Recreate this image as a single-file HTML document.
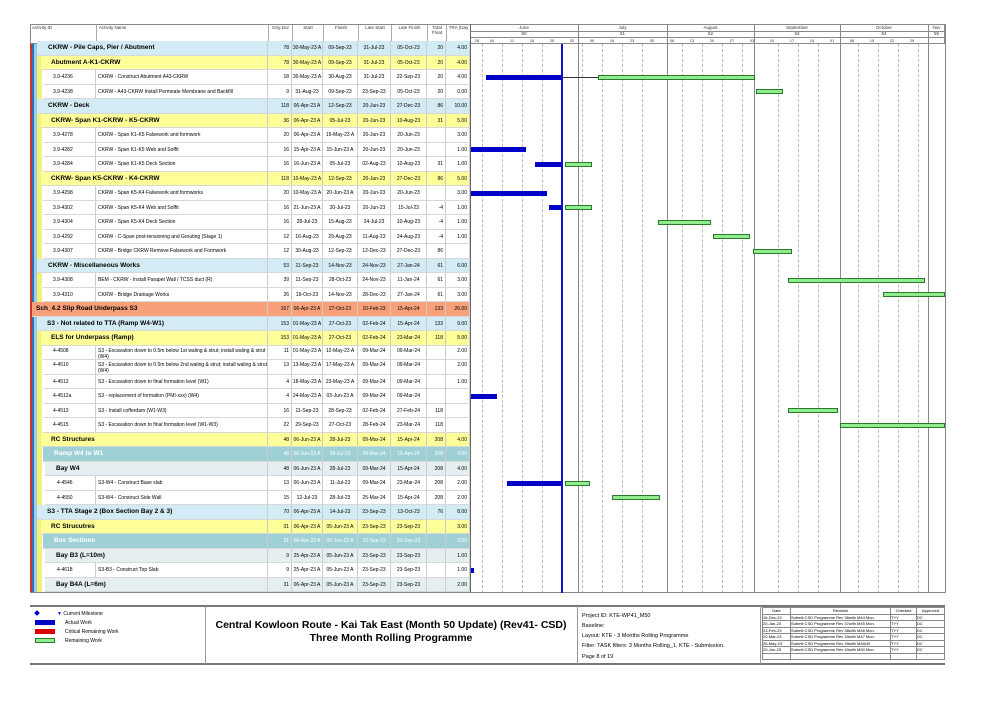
<!DOCTYPE html>
<html><head><meta charset="utf-8"><style>
*{margin:0;padding:0;box-sizing:border-box}
body{width:1001px;height:708px;background:#fff;position:relative;overflow:hidden;font-family:"Liberation Sans",sans-serif;color:#000}
.a{position:absolute}
.r{position:absolute;height:14.5px;display:flex;font-size:5px;line-height:14.5px;border-bottom:1px solid #d8d8d8;white-space:nowrap;overflow:hidden}
.r span{display:block;overflow:hidden;border-right:1px solid #ccc;height:100%}
.g{font-weight:bold;font-size:6.5px}
.g span:not(:first-child){font-weight:normal;font-size:5px}
.n{text-align:right;padding-right:2px}
.c{text-align:center}
.b1{background:#d3ebf4}.y{background:#ffff99}.w{background:#fff}.o{background:#f7a07a}.t{background:#9fd0d6;color:#fff}.e{background:#e5eff2}
.hd{font-size:4.5px;color:#333;text-align:center}
.bar{position:absolute;height:5px}
.bl{background:#0000c8}
.gr{background:#8fec8f;border:1px solid #2a7a2a}
.vl{position:absolute;top:44px;height:549px;border-left:1px dashed #bbb}
.ml{position:absolute;top:24px;height:569px;border-left:1px solid #888}
.ft{font-size:5px}
</style></head><body>
<div class="a" style="left:30px;top:24px;width:915px;height:20px;border:1px solid #888"></div>
<div class="a hd" style="left:30px;top:25px;width:66px;text-align:left;padding-left:2px">Activity ID</div>
<div class="a hd" style="left:96px;top:25px;width:172px;text-align:left;padding-left:2px;border-left:1px solid #aaa;height:19px">Activity Name</div>
<div class="a hd" style="left:268px;top:25px;width:24px;border-left:1px solid #aaa;height:19px">Orig Dur</div>
<div class="a hd" style="left:292px;top:25px;width:31px;border-left:1px solid #aaa;height:19px">Start</div>
<div class="a hd" style="left:323px;top:25px;width:35px;border-left:1px solid #aaa;height:19px">Finish</div>
<div class="a hd" style="left:358px;top:25px;width:33px;border-left:1px solid #aaa;height:19px">Late Start</div>
<div class="a hd" style="left:391px;top:25px;width:36px;border-left:1px solid #aaa;height:19px">Late Finish</div>
<div class="a hd" style="left:427px;top:25px;width:19px;border-left:1px solid #aaa;height:19px">Total Float</div>
<div class="a hd" style="left:446px;top:25px;width:24px;border-left:1px solid #aaa;height:19px">TRA (Day</div>
<div class="a" style="left:470px;top:24px;width:475px;height:20px;border-left:1px solid #888"></div>
<div class="a" style="left:470px;top:31px;width:475px;border-top:1px solid #888"></div>
<div class="a" style="left:470px;top:37px;width:475px;border-top:1px solid #888"></div>
<div class="a hd" style="left:470px;top:25px;width:108px">June</div>
<div class="a hd" style="left:578px;top:25px;width:89px">July</div>
<div class="a hd" style="left:667px;top:25px;width:87px">August</div>
<div class="a hd" style="left:754px;top:25px;width:86px">September</div>
<div class="a hd" style="left:840px;top:25px;width:88px">October</div>
<div class="a hd" style="left:928px;top:25px;width:17px">Nov</div>
<div class="a hd" style="left:470px;top:31px;width:108px">50</div>
<div class="a hd" style="left:578px;top:31px;width:89px">51</div>
<div class="a hd" style="left:667px;top:31px;width:87px">52</div>
<div class="a hd" style="left:754px;top:31px;width:86px">53</div>
<div class="a hd" style="left:840px;top:31px;width:88px">54</div>
<div class="a hd" style="left:928px;top:31px;width:17px">55</div>
<div class="a hd" style="left:472px;top:38px;width:473px;display:flex;font-size:4px">
<span style="width:10px">28</span><span style="width:20px">04</span><span style="width:20px">11</span><span style="width:20px">18</span><span style="width:20px">25</span><span style="width:20px">02</span><span style="width:20px">09</span><span style="width:20px">16</span><span style="width:20px">23</span><span style="width:20px">30</span><span style="width:20px">06</span><span style="width:20px">13</span><span style="width:20px">20</span><span style="width:20px">27</span><span style="width:20px">03</span><span style="width:20px">10</span><span style="width:20px">17</span><span style="width:20px">24</span><span style="width:20px">01</span><span style="width:20px">08</span><span style="width:20px">15</span><span style="width:20px">22</span><span style="width:20px">29</span></div>
<div class="vl" style="left:482px"></div><div class="vl" style="left:502px"></div><div class="vl" style="left:522px"></div><div class="vl" style="left:542px"></div><div class="vl" style="left:582px"></div><div class="vl" style="left:602px"></div><div class="vl" style="left:622px"></div><div class="vl" style="left:642px"></div><div class="vl" style="left:682px"></div><div class="vl" style="left:702px"></div><div class="vl" style="left:722px"></div><div class="vl" style="left:742px"></div><div class="vl" style="left:778px"></div><div class="vl" style="left:798px"></div><div class="vl" style="left:818px"></div><div class="vl" style="left:858px"></div><div class="vl" style="left:878px"></div><div class="vl" style="left:898px"></div><div class="vl" style="left:918px"></div>
<div class="ml" style="left:578px"></div><div class="ml" style="left:667px"></div><div class="ml" style="left:754px"></div><div class="ml" style="left:840px"></div><div class="ml" style="left:928px"></div><div class="ml" style="left:945px"></div>
<div class="a" style="left:470px;top:24px;height:569px;border-left:1px solid #666"></div>
<div class="a" style="left:30px;top:44px;width:2px;height:549px;background:#c0392b"></div>
<div class="a" style="left:32px;top:44px;width:2px;height:549px;background:#2e6fc0"></div>
<div class="a" style="left:34px;top:44px;width:3px;height:549px;background:#9dcde0"></div>
<div class="a" style="left:37px;top:44px;width:5px;height:549px;background:#f2f27a"></div>

<div class="r g b1" style="top:41px;left:37px;width:433px"><span style="width:231px;padding-left:11px">CKRW - Pile Caps, Pier / Abutment</span><span class="n" style="width:24px">78</span><span class="c" style="width:31px">30-May-23 A</span><span class="c" style="width:35px">09-Sep-23</span><span class="c" style="width:33px">31-Jul-23</span><span class="c" style="width:36px">05-Oct-23</span><span class="n" style="width:19px">20</span><span class="n" style="width:24px">4.00</span></div>
<div class="r g y" style="top:55.5px;left:41px;width:429px"><span style="width:227px;padding-left:10px">Abutment A-K1-CKRW</span><span class="n" style="width:24px">78</span><span class="c" style="width:31px">30-May-23 A</span><span class="c" style="width:35px">09-Sep-23</span><span class="c" style="width:33px">31-Jul-23</span><span class="c" style="width:36px">05-Oct-23</span><span class="n" style="width:19px">20</span><span class="n" style="width:24px">4.00</span></div>
<div class="r w" style="top:70px;left:43px;width:427px"><span style="width:53px;padding-left:10px">3.9-4236</span><span style="width:172px;padding-left:2px">CKRW - Construct Abutment A43-CKRW</span><span class="n" style="width:24px">18</span><span class="c" style="width:31px">30-May-23 A</span><span class="c" style="width:35px">30-Aug-23</span><span class="c" style="width:33px">31-Jul-23</span><span class="c" style="width:36px">22-Sep-23</span><span class="n" style="width:19px">20</span><span class="n" style="width:24px">4.00</span></div>
<div class="r w" style="top:84.5px;left:43px;width:427px"><span style="width:53px;padding-left:10px">3.9-4238</span><span style="width:172px;padding-left:2px">CKRW - A43-CKRW Install Permeate Membrane and Backfill</span><span class="n" style="width:24px">9</span><span class="c" style="width:31px">31-Aug-23</span><span class="c" style="width:35px">09-Sep-23</span><span class="c" style="width:33px">23-Sep-23</span><span class="c" style="width:36px">05-Oct-23</span><span class="n" style="width:19px">20</span><span class="n" style="width:24px">0.00</span></div>
<div class="r g b1" style="top:99px;left:37px;width:433px"><span style="width:231px;padding-left:11px">CKRW - Deck</span><span class="n" style="width:24px">118</span><span class="c" style="width:31px">06-Apr-23 A</span><span class="c" style="width:35px">12-Sep-23</span><span class="c" style="width:33px">20-Jun-23</span><span class="c" style="width:36px">27-Dec-23</span><span class="n" style="width:19px">86</span><span class="n" style="width:24px">10.00</span></div>
<div class="r g y" style="top:113.5px;left:41px;width:429px"><span style="width:227px;padding-left:10px">CKRW- Span K1-CKRW - K5-CKRW</span><span class="n" style="width:24px">36</span><span class="c" style="width:31px">06-Apr-23 A</span><span class="c" style="width:35px">05-Jul-23</span><span class="c" style="width:33px">20-Jun-23</span><span class="c" style="width:36px">10-Aug-23</span><span class="n" style="width:19px">31</span><span class="n" style="width:24px">5.00</span></div>
<div class="r w" style="top:128px;left:43px;width:427px"><span style="width:53px;padding-left:10px">3.9-4278</span><span style="width:172px;padding-left:2px">CKRW - Span K1-K5 Falsework and formwork</span><span class="n" style="width:24px">20</span><span class="c" style="width:31px">06-Apr-23 A</span><span class="c" style="width:35px">15-May-23 A</span><span class="c" style="width:33px">20-Jun-23</span><span class="c" style="width:36px">20-Jun-23</span><span class="n" style="width:19px"></span><span class="n" style="width:24px">3.00</span></div>
<div class="r w" style="top:142.5px;left:43px;width:427px"><span style="width:53px;padding-left:10px">3.9-4282</span><span style="width:172px;padding-left:2px">CKRW - Span K1-K5 Web and Soffit</span><span class="n" style="width:24px">16</span><span class="c" style="width:31px">15-Apr-23 A</span><span class="c" style="width:35px">15-Jun-23 A</span><span class="c" style="width:33px">20-Jun-23</span><span class="c" style="width:36px">20-Jun-23</span><span class="n" style="width:19px"></span><span class="n" style="width:24px">1.00</span></div>
<div class="r w" style="top:157px;left:43px;width:427px"><span style="width:53px;padding-left:10px">3.9-4284</span><span style="width:172px;padding-left:2px">CKRW - Span K1-K5 Deck Section</span><span class="n" style="width:24px">16</span><span class="c" style="width:31px">16-Jun-23 A</span><span class="c" style="width:35px">05-Jul-23</span><span class="c" style="width:33px">02-Aug-23</span><span class="c" style="width:36px">10-Aug-23</span><span class="n" style="width:19px">31</span><span class="n" style="width:24px">1.00</span></div>
<div class="r g y" style="top:171.5px;left:41px;width:429px"><span style="width:227px;padding-left:10px">CKRW- Span K5-CKRW - K4-CKRW</span><span class="n" style="width:24px">118</span><span class="c" style="width:31px">10-May-23 A</span><span class="c" style="width:35px">12-Sep-23</span><span class="c" style="width:33px">20-Jun-23</span><span class="c" style="width:36px">27-Dec-23</span><span class="n" style="width:19px">86</span><span class="n" style="width:24px">5.00</span></div>
<div class="r w" style="top:186px;left:43px;width:427px"><span style="width:53px;padding-left:10px">3.9-4298</span><span style="width:172px;padding-left:2px">CKRW - Span K5-K4 Falsework and formworks</span><span class="n" style="width:24px">20</span><span class="c" style="width:31px">10-May-23 A</span><span class="c" style="width:35px">20-Jun-23 A</span><span class="c" style="width:33px">20-Jun-23</span><span class="c" style="width:36px">20-Jun-23</span><span class="n" style="width:19px"></span><span class="n" style="width:24px">3.00</span></div>
<div class="r w" style="top:200.5px;left:43px;width:427px"><span style="width:53px;padding-left:10px">3.9-4302</span><span style="width:172px;padding-left:2px">CKRW - Span K5-K4 Web and Soffit</span><span class="n" style="width:24px">16</span><span class="c" style="width:31px">21-Jun-23 A</span><span class="c" style="width:35px">20-Jul-23</span><span class="c" style="width:33px">20-Jun-23</span><span class="c" style="width:36px">15-Jul-23</span><span class="n" style="width:19px">-4</span><span class="n" style="width:24px">1.00</span></div>
<div class="r w" style="top:215px;left:43px;width:427px"><span style="width:53px;padding-left:10px">3.9-4304</span><span style="width:172px;padding-left:2px">CKRW - Span K5-K4 Deck Section</span><span class="n" style="width:24px">16</span><span class="c" style="width:31px">28-Jul-23</span><span class="c" style="width:35px">15-Aug-23</span><span class="c" style="width:33px">24-Jul-23</span><span class="c" style="width:36px">10-Aug-23</span><span class="n" style="width:19px">-4</span><span class="n" style="width:24px">1.00</span></div>
<div class="r w" style="top:229.5px;left:43px;width:427px"><span style="width:53px;padding-left:10px">3.9-4292</span><span style="width:172px;padding-left:2px">CKRW - C-Span post-tensioning and Grouting (Stage 1)</span><span class="n" style="width:24px">12</span><span class="c" style="width:31px">16-Aug-23</span><span class="c" style="width:35px">29-Aug-23</span><span class="c" style="width:33px">11-Aug-23</span><span class="c" style="width:36px">24-Aug-23</span><span class="n" style="width:19px">-4</span><span class="n" style="width:24px">1.00</span></div>
<div class="r w" style="top:244px;left:43px;width:427px"><span style="width:53px;padding-left:10px">3.9-4307</span><span style="width:172px;padding-left:2px">CKRW - Bridge CKRW Remove Falsework and Formwork</span><span class="n" style="width:24px">12</span><span class="c" style="width:31px">30-Aug-23</span><span class="c" style="width:35px">12-Sep-23</span><span class="c" style="width:33px">12-Dec-23</span><span class="c" style="width:36px">27-Dec-23</span><span class="n" style="width:19px">86</span><span class="n" style="width:24px"></span></div>
<div class="r g b1" style="top:258.5px;left:37px;width:433px"><span style="width:231px;padding-left:11px">CKRW - Miscellaneous Works</span><span class="n" style="width:24px">53</span><span class="c" style="width:31px">11-Sep-23</span><span class="c" style="width:35px">14-Nov-23</span><span class="c" style="width:33px">24-Nov-23</span><span class="c" style="width:36px">27-Jan-24</span><span class="n" style="width:19px">61</span><span class="n" style="width:24px">6.00</span></div>
<div class="r w" style="top:273px;left:43px;width:427px"><span style="width:53px;padding-left:10px">3.9-4308</span><span style="width:172px;padding-left:2px">BEM - CKRW - Install Parapet Wall / TCSS duct (R)</span><span class="n" style="width:24px">39</span><span class="c" style="width:31px">11-Sep-23</span><span class="c" style="width:35px">28-Oct-23</span><span class="c" style="width:33px">24-Nov-23</span><span class="c" style="width:36px">11-Jan-24</span><span class="n" style="width:19px">61</span><span class="n" style="width:24px">3.00</span></div>
<div class="r w" style="top:287.5px;left:43px;width:427px"><span style="width:53px;padding-left:10px">3.9-4310</span><span style="width:172px;padding-left:2px">CKRW - Bridge Drainage Works</span><span class="n" style="width:24px">26</span><span class="c" style="width:31px">19-Oct-23</span><span class="c" style="width:35px">14-Nov-23</span><span class="c" style="width:33px">28-Dec-23</span><span class="c" style="width:36px">27-Jan-24</span><span class="n" style="width:19px">61</span><span class="n" style="width:24px">3.00</span></div>
<div class="r g o" style="top:302px;left:32px;width:438px"><span style="width:236px;padding-left:4px">Sch_4.2 Slip Road Underpass S3</span><span class="n" style="width:24px">167</span><span class="c" style="width:31px">06-Apr-23 A</span><span class="c" style="width:35px">27-Oct-23</span><span class="c" style="width:33px">10-Feb-23</span><span class="c" style="width:36px">15-Apr-24</span><span class="n" style="width:19px">133</span><span class="n" style="width:24px">26.00</span></div>
<div class="r g b1" style="top:316.5px;left:37px;width:433px"><span style="width:231px;padding-left:10px">S3 - Not related to TTA (Ramp W4-W1)</span><span class="n" style="width:24px">153</span><span class="c" style="width:31px">01-May-23 A</span><span class="c" style="width:35px">27-Oct-23</span><span class="c" style="width:33px">02-Feb-24</span><span class="c" style="width:36px">15-Apr-24</span><span class="n" style="width:19px">133</span><span class="n" style="width:24px">9.00</span></div>
<div class="r g y" style="top:331px;left:41px;width:429px"><span style="width:227px;padding-left:10px">ELS for Underpass (Ramp)</span><span class="n" style="width:24px">153</span><span class="c" style="width:31px">01-May-23 A</span><span class="c" style="width:35px">27-Oct-23</span><span class="c" style="width:33px">02-Feb-24</span><span class="c" style="width:36px">23-Mar-24</span><span class="n" style="width:19px">118</span><span class="n" style="width:24px">5.00</span></div>
<div class="r w" style="top:345.5px;left:43px;width:427px;line-height:6px"><span style="width:53px;padding-left:10px;padding-top:2px">4-4508</span><span style="width:172px;padding-left:2px;white-space:normal;padding-top:2px">S3 - Excavation down to 0.5m below 1st waling &amp; strut; install waling &amp; strut (W4)</span><span class="n" style="width:24px;padding-top:2px">11</span><span class="c" style="width:31px;padding-top:2px">01-May-23 A</span><span class="c" style="width:35px;padding-top:2px">12-May-23 A</span><span class="c" style="width:33px;padding-top:2px">09-Mar-24</span><span class="c" style="width:36px;padding-top:2px">09-Mar-24</span><span class="n" style="width:19px"></span><span class="n" style="width:24px;padding-top:2px">2.00</span></div>
<div class="r w" style="top:360px;left:43px;width:427px;line-height:6px"><span style="width:53px;padding-left:10px;padding-top:2px">4-4510</span><span style="width:172px;padding-left:2px;white-space:normal;padding-top:2px">S3 - Excavation down to 0.5m below 2nd waling &amp; strut; install waling &amp; strut (W4)</span><span class="n" style="width:24px;padding-top:2px">13</span><span class="c" style="width:31px;padding-top:2px">13-May-23 A</span><span class="c" style="width:35px;padding-top:2px">17-May-23 A</span><span class="c" style="width:33px;padding-top:2px">09-Mar-24</span><span class="c" style="width:36px;padding-top:2px">09-Mar-24</span><span class="n" style="width:19px"></span><span class="n" style="width:24px;padding-top:2px">2.00</span></div>
<div class="r w" style="top:374.5px;left:43px;width:427px"><span style="width:53px;padding-left:10px">4-4512</span><span style="width:172px;padding-left:2px">S3 - Excavation down to final formation level (W1)</span><span class="n" style="width:24px">4</span><span class="c" style="width:31px">18-May-23 A</span><span class="c" style="width:35px">23-May-23 A</span><span class="c" style="width:33px">09-Mar-24</span><span class="c" style="width:36px">09-Mar-24</span><span class="n" style="width:19px"></span><span class="n" style="width:24px">1.00</span></div>
<div class="r w" style="top:389px;left:43px;width:427px"><span style="width:53px;padding-left:10px">4-4512a</span><span style="width:172px;padding-left:2px">S3 - replacement of formation (PMI-xxx) (W4)</span><span class="n" style="width:24px">4</span><span class="c" style="width:31px">24-May-23 A</span><span class="c" style="width:35px">03-Jun-23 A</span><span class="c" style="width:33px">09-Mar-24</span><span class="c" style="width:36px">09-Mar-24</span><span class="n" style="width:19px"></span><span class="n" style="width:24px"></span></div>
<div class="r w" style="top:403.5px;left:43px;width:427px"><span style="width:53px;padding-left:10px">4-4513</span><span style="width:172px;padding-left:2px">S3 - Install cofferdam (W1-W3)</span><span class="n" style="width:24px">16</span><span class="c" style="width:31px">11-Sep-23</span><span class="c" style="width:35px">28-Sep-23</span><span class="c" style="width:33px">02-Feb-24</span><span class="c" style="width:36px">27-Feb-24</span><span class="n" style="width:19px">118</span><span class="n" style="width:24px"></span></div>
<div class="r w" style="top:418px;left:43px;width:427px"><span style="width:53px;padding-left:10px">4-4515</span><span style="width:172px;padding-left:2px">S3 - Excavation down to final formation level (W1-W3)</span><span class="n" style="width:24px">22</span><span class="c" style="width:31px">29-Sep-23</span><span class="c" style="width:35px">27-Oct-23</span><span class="c" style="width:33px">28-Feb-24</span><span class="c" style="width:36px">23-Mar-24</span><span class="n" style="width:19px">118</span><span class="n" style="width:24px"></span></div>
<div class="r g y" style="top:432.5px;left:41px;width:429px"><span style="width:227px;padding-left:10px">RC Structures</span><span class="n" style="width:24px">48</span><span class="c" style="width:31px">06-Jun-23 A</span><span class="c" style="width:35px">28-Jul-23</span><span class="c" style="width:33px">09-Mar-24</span><span class="c" style="width:36px">15-Apr-24</span><span class="n" style="width:19px">208</span><span class="n" style="width:24px">4.00</span></div>
<div class="r g t" style="top:447px;left:43px;width:427px"><span style="width:225px;padding-left:11px">Ramp W4 to W1</span><span class="n" style="width:24px">48</span><span class="c" style="width:31px">06-Jun-23 A</span><span class="c" style="width:35px">28-Jul-23</span><span class="c" style="width:33px">09-Mar-24</span><span class="c" style="width:36px">15-Apr-24</span><span class="n" style="width:19px">208</span><span class="n" style="width:24px">4.00</span></div>
<div class="r g e" style="top:461.5px;left:45px;width:425px"><span style="width:223px;padding-left:11px">Bay W4</span><span class="n" style="width:24px">48</span><span class="c" style="width:31px">06-Jun-23 A</span><span class="c" style="width:35px">28-Jul-23</span><span class="c" style="width:33px">09-Mar-24</span><span class="c" style="width:36px">15-Apr-24</span><span class="n" style="width:19px">208</span><span class="n" style="width:24px">4.00</span></div>
<div class="r w" style="top:476px;left:45px;width:425px"><span style="width:51px;padding-left:12px">4-4546</span><span style="width:172px;padding-left:2px">S3-W4 - Construct Base slab</span><span class="n" style="width:24px">13</span><span class="c" style="width:31px">06-Jun-23 A</span><span class="c" style="width:35px">11-Jul-23</span><span class="c" style="width:33px">09-Mar-24</span><span class="c" style="width:36px">23-Mar-24</span><span class="n" style="width:19px">208</span><span class="n" style="width:24px">2.00</span></div>
<div class="r w" style="top:490.5px;left:45px;width:425px"><span style="width:51px;padding-left:12px">4-4550</span><span style="width:172px;padding-left:2px">S3-W4 - Construct Side Wall</span><span class="n" style="width:24px">15</span><span class="c" style="width:31px">12-Jul-23</span><span class="c" style="width:35px">28-Jul-23</span><span class="c" style="width:33px">25-Mar-24</span><span class="c" style="width:36px">15-Apr-24</span><span class="n" style="width:19px">208</span><span class="n" style="width:24px">2.00</span></div>
<div class="r g b1" style="top:505px;left:37px;width:433px"><span style="width:231px;padding-left:10px">S3 - TTA Stage 2 (Box Section Bay 2 &amp; 3)</span><span class="n" style="width:24px">70</span><span class="c" style="width:31px">06-Apr-23 A</span><span class="c" style="width:35px">14-Jul-23</span><span class="c" style="width:33px">23-Sep-23</span><span class="c" style="width:36px">13-Oct-23</span><span class="n" style="width:19px">76</span><span class="n" style="width:24px">8.00</span></div>
<div class="r g y" style="top:519.5px;left:41px;width:429px"><span style="width:227px;padding-left:10px">RC Strucutres</span><span class="n" style="width:24px">31</span><span class="c" style="width:31px">06-Apr-23 A</span><span class="c" style="width:35px">05-Jun-23 A</span><span class="c" style="width:33px">23-Sep-23</span><span class="c" style="width:36px">23-Sep-23</span><span class="n" style="width:19px"></span><span class="n" style="width:24px">3.00</span></div>
<div class="r g t" style="top:534px;left:43px;width:427px"><span style="width:225px;padding-left:11px">Box Sections</span><span class="n" style="width:24px">31</span><span class="c" style="width:31px">06-Apr-23 A</span><span class="c" style="width:35px">05-Jun-23 A</span><span class="c" style="width:33px">23-Sep-23</span><span class="c" style="width:36px">23-Sep-23</span><span class="n" style="width:19px"></span><span class="n" style="width:24px">3.00</span></div>
<div class="r g e" style="top:548.5px;left:45px;width:425px"><span style="width:223px;padding-left:11px">Bay B3 (L=10m)</span><span class="n" style="width:24px">9</span><span class="c" style="width:31px">25-Apr-23 A</span><span class="c" style="width:35px">05-Jun-23 A</span><span class="c" style="width:33px">23-Sep-23</span><span class="c" style="width:36px">23-Sep-23</span><span class="n" style="width:19px"></span><span class="n" style="width:24px">1.00</span></div>
<div class="r w" style="top:563px;left:45px;width:425px"><span style="width:51px;padding-left:12px">4-4618</span><span style="width:172px;padding-left:2px">S3-B3 - Construct Top Slab</span><span class="n" style="width:24px">9</span><span class="c" style="width:31px">25-Apr-23 A</span><span class="c" style="width:35px">05-Jun-23 A</span><span class="c" style="width:33px">23-Sep-23</span><span class="c" style="width:36px">23-Sep-23</span><span class="n" style="width:19px"></span><span class="n" style="width:24px">1.00</span></div>
<div class="r g e" style="top:577.5px;left:45px;width:425px"><span style="width:223px;padding-left:11px">Bay B4A (L=6m)</span><span class="n" style="width:24px">31</span><span class="c" style="width:31px">06-Apr-23 A</span><span class="c" style="width:35px">05-Jun-23 A</span><span class="c" style="width:33px">23-Sep-23</span><span class="c" style="width:36px">23-Sep-23</span><span class="n" style="width:19px"></span><span class="n" style="width:24px">2.00</span></div>
<div class="a" style="left:30px;top:592px;width:915px;border-top:1px solid #888"></div>
<div class="a" style="left:945px;top:24px;height:569px;border-left:1px solid #888"></div>

<div class="bar bl" style="left:486px;top:74.5px;width:76px"></div>
<div class="a" style="left:562px;top:76.5px;width:36px;border-top:1px solid #333"></div>
<div class="bar gr" style="left:598px;top:74.5px;width:157px"></div>
<div class="bar gr" style="left:756px;top:89px;width:27px"></div>
<div class="bar bl" style="left:471px;top:147px;width:55px"></div>
<div class="bar bl" style="left:535px;top:161.5px;width:27px"></div>
<div class="bar gr" style="left:565px;top:161.5px;width:27px"></div>
<div class="bar bl" style="left:471px;top:190.5px;width:76px"></div>
<div class="bar bl" style="left:549px;top:205px;width:13px"></div>
<div class="bar gr" style="left:565px;top:205px;width:27px"></div>
<div class="bar gr" style="left:658px;top:219.5px;width:53px"></div>
<div class="bar gr" style="left:713px;top:234px;width:37px"></div>
<div class="bar gr" style="left:753px;top:248.5px;width:39px"></div>
<div class="bar gr" style="left:788px;top:277.5px;width:137px"></div>
<div class="bar gr" style="left:883px;top:292px;width:62px"></div>
<div class="bar bl" style="left:471px;top:393.5px;width:26px"></div>
<div class="bar gr" style="left:788px;top:408px;width:50px"></div>
<div class="bar gr" style="left:840px;top:422.5px;width:105px"></div>
<div class="bar bl" style="left:507px;top:480.5px;width:55px"></div>
<div class="bar gr" style="left:565px;top:480.5px;width:25px"></div>
<div class="bar gr" style="left:612px;top:495px;width:48px"></div>
<div class="bar bl" style="left:471px;top:567.5px;width:3px"></div>
<div class="a" style="left:561px;top:44px;width:2px;height:549px;background:#1010d0"></div>

<div class="a" style="left:30px;top:605px;width:915px;height:60px;border-top:2px solid #777;border-bottom:2px solid #777"></div>
<div class="a" style="left:205px;top:606px;height:58px;border-left:1px solid #999"></div>
<div class="a" style="left:577px;top:606px;height:58px;border-left:1px solid #999"></div>
<div class="a" style="left:760px;top:606px;height:58px;border-left:1px solid #999"></div>
<div class="a ft" style="left:35px;top:610px;line-height:9px">
<div><span style="display:inline-block;width:4px;height:4px;background:#0000c0;transform:rotate(45deg);margin-right:18px"></span><span style="color:#0000c0">&#9660;</span> Current Milestone</div>
<div><span style="display:inline-block;width:20px;height:5px;background:#0000c8;margin-right:10px;vertical-align:middle"></span>Actual Work</div>
<div><span style="display:inline-block;width:20px;height:5px;background:#d00;margin-right:10px;vertical-align:middle"></span>Critical Remaining Work</div>
<div><span style="display:inline-block;width:20px;height:5px;background:#8fec8f;border:1px solid #2a7a2a;margin-right:10px;vertical-align:middle"></span>Remaining Work</div>
</div>
<div class="a" style="left:205px;top:619px;width:372px;text-align:center;font-weight:bold;font-size:10.5px;line-height:13px">Central Kowloon Route - Kai Tak East (Month 50 Update) (Rev41- CSD)<br>Three Month Rolling Programme</div>
<div class="a ft" style="left:582px;top:611px;line-height:10px;font-size:5.5px">Project ID: KTE-WP41_M50<br>Baseline:<br>Layout: KTE - 3 Months Rolling Programme<br>Filter: TASK filters: 3 Months Rolling_1, KTE - Submission.</div>
<div class="a ft" style="left:582px;top:654px;font-size:5.5px">Page 8 of 19</div>
<table class="a" style="left:762px;top:607px;width:183px;border-collapse:collapse;font-size:4px;line-height:5.5px">
<tr><td style="border:1px solid #888;width:28px;text-align:center">Date</td><td style="border:1px solid #888;width:100px;text-align:center">Revision</td><td style="border:1px solid #888;text-align:center">Checked</td><td style="border:1px solid #888;text-align:center">Approved</td></tr>
<tr><td style="border:1px solid #888">16-Dec-22</td><td style="border:1px solid #888">Submit CSD Programme Rev 36with M44 Mon.</td><td style="border:1px solid #888">TYY</td><td style="border:1px solid #888">DC</td></tr>
<tr><td style="border:1px solid #888">20-Jan-23</td><td style="border:1px solid #888">Submit CSD Programme Rev 37with M45 Mon.</td><td style="border:1px solid #888">TYY</td><td style="border:1px solid #888">DC</td></tr>
<tr><td style="border:1px solid #888">23-Feb-23</td><td style="border:1px solid #888">Submit CSD Programme Rev 38with M46 Mon.</td><td style="border:1px solid #888">TYY</td><td style="border:1px solid #888">DC</td></tr>
<tr><td style="border:1px solid #888">20-Mar-23</td><td style="border:1px solid #888">Submit CSD Programme Rev 39with M47 Mon.</td><td style="border:1px solid #888">TYY</td><td style="border:1px solid #888">DC</td></tr>
<tr><td style="border:1px solid #888">26-May-23</td><td style="border:1px solid #888">Submit CSD Programme Rev 39with M48/49</td><td style="border:1px solid #888">TYY</td><td style="border:1px solid #888">DC</td></tr>
<tr><td style="border:1px solid #888">20-Jun-23</td><td style="border:1px solid #888">Submit CSD Programme Rev 40with M50 Mon.</td><td style="border:1px solid #888">TYY</td><td style="border:1px solid #888">DC</td></tr>
<tr><td style="border:1px solid #888;height:6px"></td><td style="border:1px solid #888"></td><td style="border:1px solid #888"></td><td style="border:1px solid #888"></td></tr>
</table>
</body></html>
